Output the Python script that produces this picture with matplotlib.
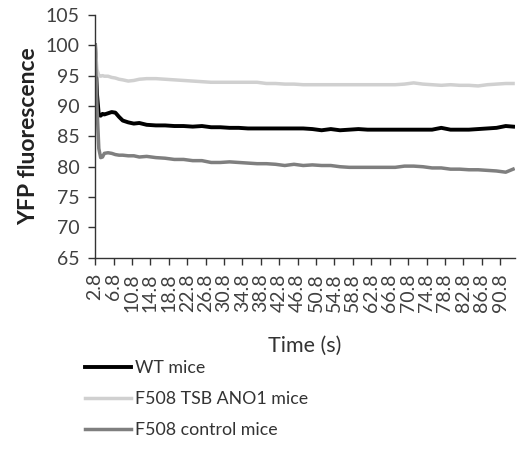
import matplotlib
matplotlib.use("Agg")
import matplotlib.pyplot as plt
import numpy as np

plt.rcParams['font.family'] = ['Lato', 'DejaVu Sans']

# time (s) and readings taken off the trace
time_s = [2.8, 3.2, 3.6, 4.0, 4.4, 4.8, 5.6, 6.4, 7.2, 8.0, 8.8, 10.0, 11.2, 12.4,
          14.0, 16.0, 18.0, 20.0, 22.0, 24.0, 26.0, 28.0, 30.0, 32.0, 34.0, 36.0,
          38.0, 40.0, 42.0, 44.0, 46.0, 48.0, 50.0, 52.0, 54.0, 56.0, 58.0, 60.0,
          62.0, 64.0, 66.0, 68.0, 70.0, 72.0, 74.0, 76.0, 78.0, 80.0, 82.0, 84.0,
          86.0, 88.0, 90.0, 92.0, 93.6]

wt = [100.0, 92.0, 88.5, 88.4, 88.7, 88.6, 88.8, 89.0, 88.9, 88.2, 87.6, 87.3, 87.1, 87.2,
      86.9, 86.8, 86.8, 86.7, 86.7, 86.6, 86.7, 86.5, 86.5, 86.4, 86.4, 86.3,
      86.3, 86.3, 86.3, 86.3, 86.3, 86.3, 86.2, 86.0, 86.2, 86.0, 86.1, 86.2,
      86.1, 86.1, 86.1, 86.1, 86.1, 86.1, 86.1, 86.1, 86.4, 86.1, 86.1, 86.1,
      86.2, 86.3, 86.4, 86.7, 86.6]

tsb_ano1 = [100.0, 96.0, 95.0, 94.9, 95.0, 94.9, 94.9, 94.7, 94.6, 94.4, 94.3, 94.1, 94.2, 94.4,
            94.5, 94.5, 94.4, 94.3, 94.2, 94.1, 94.0, 93.9, 93.9, 93.9, 93.9, 93.9,
            93.9, 93.7, 93.7, 93.6, 93.6, 93.5, 93.5, 93.5, 93.5, 93.5, 93.5, 93.5,
            93.5, 93.5, 93.5, 93.5, 93.6, 93.8, 93.6, 93.5, 93.4, 93.5, 93.4, 93.4,
            93.3, 93.5, 93.6, 93.7, 93.7]

control = [100.0, 90.0, 83.0, 81.5, 81.6, 82.2, 82.3, 82.2, 82.0, 81.9, 81.9, 81.8, 81.8, 81.6,
           81.7, 81.5, 81.4, 81.2, 81.2, 81.0, 81.0, 80.7, 80.7, 80.8, 80.7, 80.6,
           80.5, 80.5, 80.4, 80.2, 80.4, 80.2, 80.3, 80.2, 80.2, 80.0, 79.9, 79.9,
           79.9, 79.9, 79.9, 79.9, 80.1, 80.1, 80.0, 79.8, 79.8, 79.6, 79.6, 79.5,
           79.5, 79.4, 79.3, 79.1, 79.6]

tick_times = [2.8 + 4 * i for i in range(23)]
tick_labels = ["%.1f" % t for t in tick_times]

fig = plt.figure(figsize=(5.17, 4.5), dpi=100)
ax = fig.add_axes([0.184, 0.427, 0.812, 0.54])

ax.plot(time_s, wt, color="black", lw=2.8, label="WT mice")
ax.plot(time_s, tsb_ano1, color="#d0d0d0", lw=2.5, label="F508 TSB ANO1 mice")
ax.plot(time_s, control, color="#7f7f7f", lw=2.5, label="F508 control mice")

ax.set_xlim(2.8, 94.0)
ax.set_ylim(65, 105)
ax.set_yticks(np.arange(65, 106, 5))
ax.set_xticks(tick_times)
ax.set_xticklabels(tick_labels, rotation=90)

for s in ["top", "right"]:
    ax.spines[s].set_visible(False)
for s in ["left", "bottom"]:
    ax.spines[s].set_color("#333333")
    ax.spines[s].set_linewidth(1.0)

ax.tick_params(axis="y", direction="out", length=5, width=1, color="#333333",
               labelsize=14, pad=6, labelcolor="#404040")
ax.tick_params(axis="x", direction="out", length=5, width=1, color="#333333",
               labelsize=14, pad=6, labelcolor="#404040")

ax.set_ylabel("YFP fluorescence", fontsize=16.5, fontweight="bold", color="#222222", labelpad=5)
ax.set_xlabel("Time (s)", fontsize=15.5, color="#333333", labelpad=17)

fig.legend(loc="upper left", bbox_to_anchor=(0.164, 0.200), frameon=False,
           fontsize=12.8, handlelength=2.6, handletextpad=0.2, labelspacing=0.85,
           borderpad=0, borderaxespad=0, labelcolor="#333333")

plt.savefig("out.png", dpi=100)
